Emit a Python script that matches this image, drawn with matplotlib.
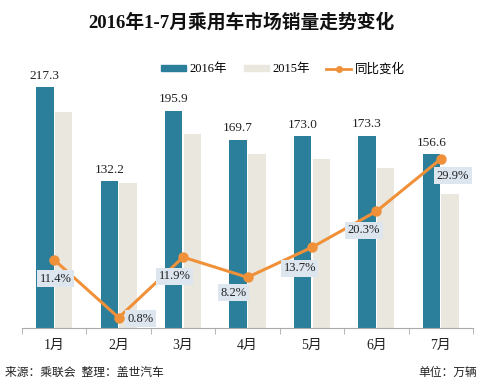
import numpy as np
import matplotlib.pyplot as plt
from matplotlib.lines import Line2D
from matplotlib.patches import Patch

# Daten
months = ["1月", "2月", "3月", "4月", "5月", "6月", "7月"]
sales_2016 = [217.3, 132.2, 195.9, 169.7, 173.0, 173.3, 156.6]
sales_2015 = [195.0, 131.1, 175.5, 156.8, 152.2, 144.1, 120.6]
yoy = [11.4, 0.8, 11.9, 8.2, 13.7, 20.3, 29.9]

C16 = "#2c7f9a"
C15 = "#e9e7de"
CLINE = "#f0913a"
CBOX = "#dde5ef"

FONT = ["Liberation Serif", "Noto Sans CJK SC", "DejaVu Sans"]
plt.rcParams["font.family"] = FONT

fig = plt.figure(figsize=(5.0, 3.84), dpi=100)
ax = fig.add_axes([0.044, 0.1458, 0.902, 0.6927])
x = np.arange(len(months))

ax.bar(x - 0.145, sales_2016, width=0.27, color=C16, zorder=2)
ax.bar(x + 0.145, sales_2015, width=0.27, color=C15, zorder=2)
ax.set_xlim(-0.5, len(months) - 0.5)
ax.set_ylim(0, 240)

for xi, v in zip(x, sales_2016):
    ax.text(xi - 0.145, v + 5, f"{v:.1f}", ha="center", va="bottom",
            fontsize=9.5, color="#222222")

for s in ["top", "right", "left"]:
    ax.spines[s].set_visible(False)
ax.spines["bottom"].set_color("#aaaaaa")
ax.set_yticks([])
ax.set_xticks(x)
ax.set_xticklabels(months, fontsize=10, color="#222222")
ax.tick_params(axis="x", which="major", length=0, pad=8)
ax.set_xticks(np.arange(-0.5, len(months), 1.0), minor=True)
ax.tick_params(axis="x", which="minor", length=4, color="#aaaaaa")

ax2 = ax.twinx()
ax2.set_ylim(-1.1, 47.7)
ax2.axis("off")
ax2.plot(x, yoy, color=CLINE, lw=2.2, marker="o", ms=6.5, zorder=3)

# Label-Offsets (dx in Kategorien, dy in %)
offs = [(0.02, -3.5), (0.34, -0.2), (-0.13, -3.5), (-0.22, -2.8),
        (-0.19, -3.8), (-0.19, -3.5), (0.19, -3.1)]
for xi, v, (dx, dy) in zip(x, yoy, offs):
    ax2.text(xi + dx, v + dy, f"{v:.1f}%", ha="center", va="center",
             fontsize=9, color="#222222",
             bbox=dict(boxstyle="square,pad=0.2", fc=CBOX, ec="none"))

handles = [Patch(color=C16), Patch(color=C15),
           Line2D([], [], color=CLINE, lw=2, marker="o", ms=4)]
fig.legend(handles, ["2016年", "2015年", "同比变化"], loc="center",
           bbox_to_anchor=(0.566, 0.82), ncol=3, frameon=False,
           fontsize=9, handlelength=2.0, handleheight=0.4,
           columnspacing=1.3, handletextpad=0.3)

fig.text(0.482, 0.943, "2016年1-7月乘用车市场销量走势变化", ha="center",
         va="center", fontsize=13.5, fontweight="bold", color="#111111")
fig.text(0.01, 0.03, "来源：乘联会  整理：盖世汽车", ha="left", va="center",
         fontsize=8.5, style="italic", color="#222222")
fig.text(0.955, 0.03, "单位：万辆", ha="right", va="center",
         fontsize=8.5, color="#222222")

fig.savefig("out.png", dpi=100, facecolor="white")
